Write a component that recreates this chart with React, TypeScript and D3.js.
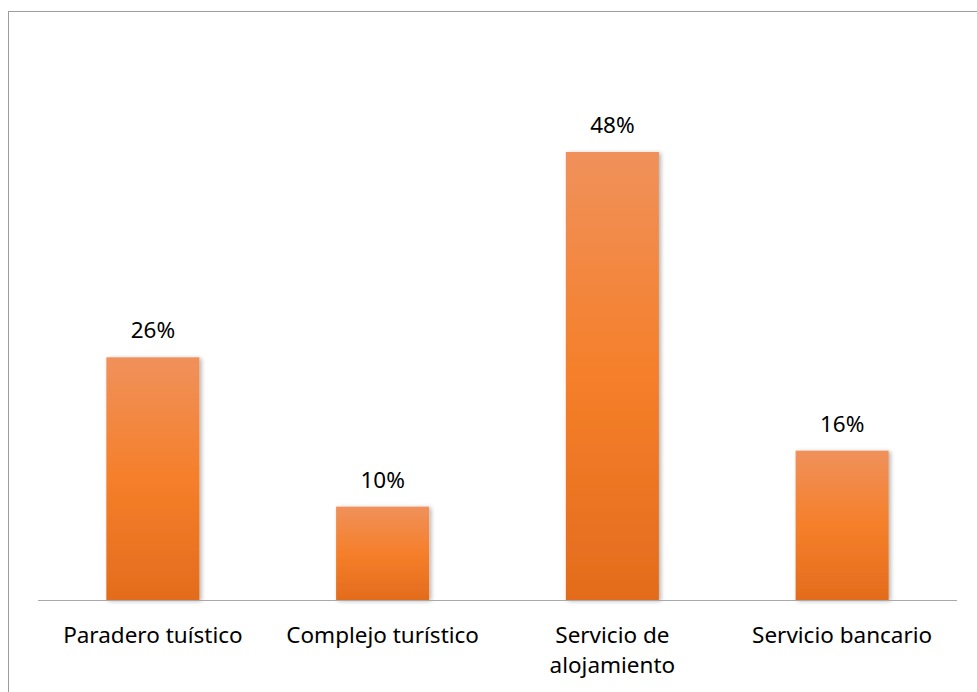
import React from "react";
import * as d3 from "d3";

const categories: string[][] = [
  ["Paradero tuístico"],
  ["Complejo turístico"],
  ["Servicio de", "alojamiento"],
  ["Servicio bancario"],
];
const values: number[] = [0.26, 0.1, 0.48, 0.16];
const valueLabels: string[] = ["26%", "10%", "48%", "16%"];

const W = 977;
const H = 692;
const FONT = "'Noto Sans', 'Open Sans', sans-serif";

export default function App() {
  const plotLeft = 38;
  const plotRight = 957;
  const baseY = 600;

  const x = d3
    .scaleBand<number>()
    .domain(values.map((_, i) => i))
    .range([plotLeft, plotRight])
    .paddingInner(0.595)
    .paddingOuter(0.2975);

  const y = d3.scaleLinear().domain([0, 0.5]).range([baseY, baseY - 466.7]);

  return (
    <svg
      width={W}
      height={H}
      style={{ position: "absolute", left: 0, top: 0, display: "block", background: "#fff" }}
      fontFamily={FONT}
    >
      <defs>
        <linearGradient id="barGrad" x1="0" y1="0" x2="0" y2="1">
          <stop offset="0%" stopColor="#F0915B" />
          <stop offset="50%" stopColor="#F57F2A" />
          <stop offset="100%" stopColor="#E36C1D" />
        </linearGradient>
        <filter id="barShadow" x="-20%" y="-10%" width="140%" height="120%">
          <feDropShadow dx="2" dy="1" stdDeviation="2" floodColor="#000" floodOpacity="0.3" />
        </filter>
      </defs>

      {/* chart frame */}
      <rect x={8.5} y={11.5} width={W + 20} height={H + 20} fill="none" stroke="#9d9d9d" strokeWidth={1} />

      {values.map((v, i) => (
        <rect
          key={`bar-${i}`}
          x={x(i)}
          y={y(v)}
          width={x.bandwidth()}
          height={baseY - y(v)}
          fill="url(#barGrad)"
          filter="url(#barShadow)"
        />
      ))}

      <line x1={plotLeft} x2={plotRight} y1={baseY + 0.5} y2={baseY + 0.5} stroke="#a9a9a9" strokeWidth={1} />

      {values.map((v, i) => (
        <text
          key={`val-${i}`}
          x={(x(i) as number) + x.bandwidth() / 2}
          y={y(v) - 19}
          textAnchor="middle"
          fontSize={22.5}
          fill="#000"
        >
          {valueLabels[i]}
        </text>
      ))}

      {categories.map((lines, i) => (
        <text
          key={`cat-${i}`}
          x={(x(i) as number) + x.bandwidth() / 2}
          y={643}
          textAnchor="middle"
          fontSize={22.5}
          fill="#000"
        >
          {lines.map((ln, j) => (
            <tspan key={j} x={(x(i) as number) + x.bandwidth() / 2} dy={j === 0 ? 0 : 30}>
              {ln}
            </tspan>
          ))}
        </text>
      ))}
    </svg>
  );
}
